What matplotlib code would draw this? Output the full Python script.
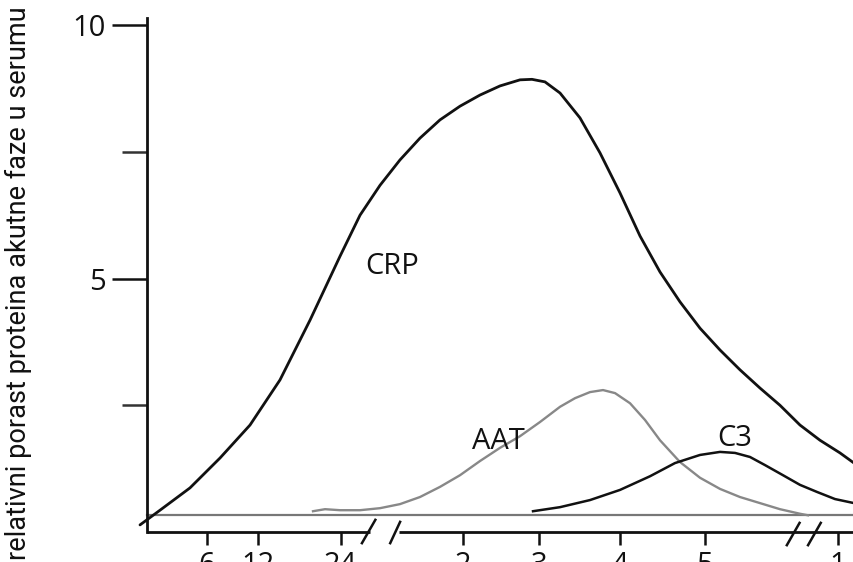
import matplotlib
matplotlib.use("Agg")
import matplotlib.pyplot as plt

# Time axis in relative units (0..100 across the plot); values relative increase
tick_pos = [8.5, 15.7, 27.4, 44.7, 55.4, 66.9, 78.9, 97.7]
tick_labels = ["6", "12", "24", "2", "3", "4", "5", "1"]

crp_x = [-0.99, 1.84, 6.08, 10.33, 14.57, 18.81, 23.06, 27.30, 30.13, 32.96,
         35.78, 38.61, 41.44, 44.27, 47.10, 49.93, 52.76, 54.45, 56.29, 58.42,
         61.24, 64.07, 66.90, 69.73, 72.56, 75.39, 78.22, 81.05, 83.87, 86.70,
         89.53, 92.36, 95.19, 98.02, 100.0]
crp_y = [0.14, 0.43, 0.87, 1.46, 2.11, 3.00, 4.18, 5.44, 6.25, 6.84,
         7.34, 7.77, 8.13, 8.40, 8.62, 8.80, 8.92, 8.93, 8.88, 8.66,
         8.17, 7.48, 6.69, 5.84, 5.13, 4.54, 4.02, 3.59, 3.20, 2.84,
         2.50, 2.11, 1.81, 1.56, 1.36]

aat_x = [23.48, 25.18, 27.30, 30.13, 32.96, 35.78, 38.61, 41.44, 44.27, 47.10,
         49.93, 52.76, 55.59, 58.42, 60.54, 62.66, 64.50, 66.20, 68.32, 70.44,
         72.56, 75.39, 78.22, 81.05, 83.87, 86.70, 89.53, 92.36, 93.49]
aat_y = [0.41, 0.45, 0.43, 0.43, 0.47, 0.55, 0.69, 0.89, 1.12, 1.40,
         1.66, 1.89, 2.17, 2.47, 2.64, 2.76, 2.80, 2.74, 2.54, 2.21,
         1.81, 1.38, 1.07, 0.85, 0.69, 0.57, 0.45, 0.36, 0.33]

c3_x = [54.60, 58.42, 62.66, 66.90, 71.15, 74.68, 78.22, 81.05, 83.17, 85.29,
        87.41, 89.96, 92.36, 94.77, 97.31, 100.0]
c3_y = [0.41, 0.49, 0.63, 0.83, 1.10, 1.36, 1.52, 1.58, 1.56, 1.48,
        1.32, 1.12, 0.93, 0.79, 0.65, 0.57]

baseline_level = 0.33

W, H = 854, 562
fig = plt.figure(figsize=(W / 100, H / 100), dpi=100)
ax = fig.add_axes([147 / W, (H - 532) / H, (W - 147) / W, (532 - 18) / H])
ax.set_xlim(0, 100)
ax.set_ylim(0, 10.14)

main_font = "Open Sans"
label_font = "Roboto"

for s in ("top", "right", "bottom"):
    ax.spines[s].set_visible(False)
ax.spines["left"].set_linewidth(2.0)
ax.spines["left"].set_color("#111111")

# y ticks
ax.set_yticks([5, 10])
ax.set_yticklabels(["5", "10"], fontsize=21, fontfamily=main_font)
ax.set_yticks([2.5, 7.5], minor=True)
ax.tick_params(axis="y", which="major", length=25, width=1.8, direction="out", pad=5, colors="#111111")
ax.tick_params(axis="y", which="minor", length=18, width=1.8, direction="out", colors="#333333")

# x ticks
ax.set_xticks(tick_pos)
ax.set_xticklabels(tick_labels, fontsize=21, fontfamily=main_font)
ax.tick_params(axis="x", which="major", length=9, width=1.8, direction="out", pad=5, colors="#111111")

# broken x axis
axis_kw = dict(color="#111111", lw=2.0, clip_on=False, solid_capstyle="butt")
ax.plot([0, 31.6], [0, 0], **axis_kw)
ax.plot([35.6, 100], [0, 0], **axis_kw)
sl_kw = dict(color="#111111", lw=1.8, clip_on=False)
ax.plot([30.4, 32.3], [-0.22, 0.24], **sl_kw)
ax.plot([34.4, 35.8], [-0.22, 0.20], **sl_kw)
ax.plot([90.5, 92.3], [-0.26, 0.18], **sl_kw)
ax.plot([93.5, 95.3], [-0.26, 0.18], **sl_kw)

# reference level
ax.plot([0, 100], [baseline_level, baseline_level], color="#777777", lw=1.6, clip_on=False)

ax.plot(crp_x, crp_y, color="#111111", lw=2.0, clip_on=False, solid_capstyle="round", solid_joinstyle="round")
ax.plot(aat_x, aat_y, color="#888888", lw=1.7, clip_on=False, solid_joinstyle="round")
ax.plot(c3_x, c3_y, color="#111111", lw=1.8, clip_on=False, solid_joinstyle="round")

ax.text(30.8, 5.24, "CRP", fontsize=21, fontfamily=main_font, ha="left", va="center", color="#111111")
ax.text(45.9, 1.78, "AAT", fontsize=21, fontfamily=main_font, ha="left", va="center", color="#111111")
ax.text(80.6, 1.56, "C3", fontsize=21, fontfamily=main_font, ha="left", va="bottom", color="#111111")

fig.text(18 / W, 1 - 283 / H, "relativni porast proteina akutne faze u serumu",
         rotation=90, ha="center", va="center", fontsize=19.5, fontfamily=label_font, color="#111111")

fig.savefig("out.png", dpi=100)
